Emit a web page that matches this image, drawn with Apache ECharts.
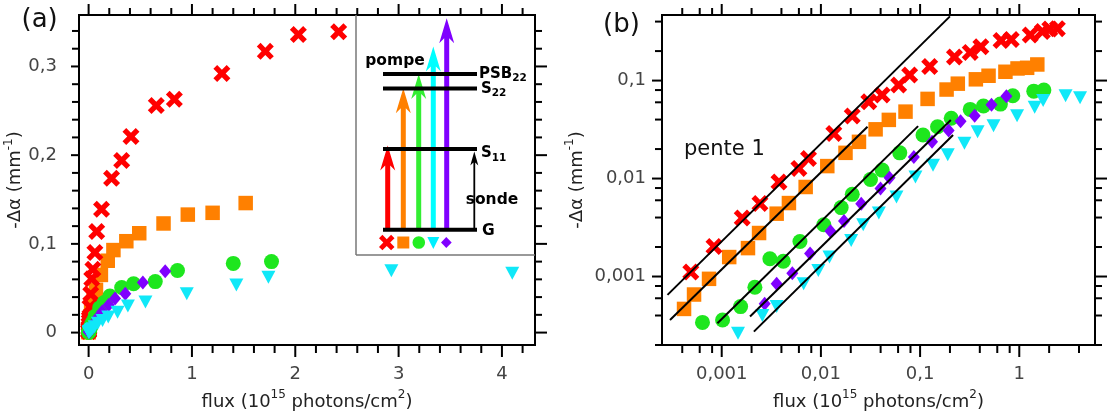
<!DOCTYPE html>
<html>
<head>
<meta charset="utf-8">
<script src="https://cdn.jsdelivr.net/npm/echarts@6/dist/echarts.min.js"></script>
<style>
html,body{margin:0;padding:0;background:#fff;}
#c{width:1112px;height:416px;}
</style>
</head>
<body>
<div id="c"></div>
<script>
// ---------------- data (flux in 1e15 photons/cm2, -Δα in mm-1) ----------------
const redPts = [
  [0.000488, 0.00111], [0.000836, 0.00203], [0.00161, 0.00395], [0.00243, 0.00555],
  [0.00378, 0.00923], [0.0060, 0.0127], [0.0075, 0.0160], [0.0135, 0.0289],
  [0.0207, 0.0435], [0.0304, 0.0608], [0.0414, 0.0713], [0.0608, 0.0903],
  [0.0785, 0.114], [0.125, 0.139], [0.222, 0.174], [0.32, 0.194],
  [0.41, 0.221], [0.655, 0.256], [0.83, 0.263], [1.29, 0.292],
  [1.71, 0.317], [2.03, 0.336], [2.42, 0.339]
];
const orangePts = [
  [0.000417, 0.000467], [0.000526, 0.000655], [0.000745, 0.000947], [0.00119, 0.00158],
  [0.00184, 0.00195], [0.00238, 0.00278], [0.00358, 0.00438], [0.00476, 0.00562],
  [0.00702, 0.0082], [0.0116, 0.0134], [0.0177, 0.0183], [0.0242, 0.0237],
  [0.0356, 0.0318], [0.0484, 0.0397], [0.0713, 0.0482], [0.119, 0.065],
  [0.185, 0.081], [0.24, 0.093], [0.365, 0.103], [0.49, 0.112],
  [0.725, 0.123], [0.96, 0.133], [1.2, 0.135], [1.52, 0.146]
];
const greenPts = [
  [0.00064, 0.00034], [0.00102, 0.00036], [0.00155, 0.000493], [0.00216, 0.000776],
  [0.00306, 0.00152], [0.00418, 0.00143], [0.00615, 0.00228], [0.0107, 0.00338],
  [0.016, 0.00505], [0.0207, 0.0069], [0.0316, 0.00977], [0.0415, 0.0122],
  [0.0624, 0.0183], [0.107, 0.0278], [0.15, 0.0338], [0.206, 0.0412],
  [0.32, 0.0508], [0.435, 0.0550], [0.645, 0.0575], [0.86, 0.070],
  [1.4, 0.078], [1.77, 0.080]
];
const purplePts = [
  [0.00271, 0.000526], [0.00358, 0.000842], [0.00515, 0.00108], [0.00778, 0.00172],
  [0.0125, 0.00289], [0.0171, 0.00368], [0.0255, 0.00554], [0.0399, 0.0079],
  [0.0492, 0.0102], [0.0865, 0.0166], [0.132, 0.0237], [0.194, 0.031],
  [0.256, 0.0385], [0.355, 0.0437], [0.525, 0.0565], [0.741, 0.069]
];
const cyanPts = [
  [0.00146, 0.000263], [0.00257, 0.000399], [0.00358, 0.000493], [0.0067, 0.000842],
  [0.00942, 0.00115], [0.0122, 0.00158], [0.0202, 0.00233], [0.0267, 0.00338],
  [0.0384, 0.00444], [0.0578, 0.00648], [0.0898, 0.0104], [0.135, 0.0137],
  [0.19, 0.0175], [0.28, 0.0229], [0.38, 0.0300], [0.55, 0.0345],
  [0.95, 0.0438], [1.43, 0.0535], [1.74, 0.0625], [2.93, 0.0698], [4.1, 0.0668]
];
// slope-1 guide lines in panel (b), end points
const fitRed = [[0.000284, 0.00065], [0.2, 0.452]];
const fitOrange = [[0.000301, 0.00036], [0.0295, 0.0338]];
const fitGreen = [[0.000905, 0.000333], [0.0955, 0.0343]];
const fitPurple = [[0.00193, 0.00039], [0.204, 0.0396]];
const fitCyan = [[0.00211, 0.000274], [0.215, 0.0278]];

// axis ranges and ticks
const aX = [-0.093, 4.32], aY = [-0.014, 0.358];
const bX = [0.00025, 5.8], bY = [0.0002, 0.467];
const aXMajor = [0, 1, 2, 3, 4];
const aXMinor = [0.2, 0.4, 0.6, 0.8, 1.2, 1.4, 1.6, 1.8, 2.2, 2.4, 2.6, 2.8, 3.2, 3.4, 3.6, 3.8, 4.2];
const aYMajor = [0, 0.1, 0.2, 0.3];
const aYMinor = [0.02, 0.04, 0.06, 0.08, 0.12, 0.14, 0.16, 0.18, 0.22, 0.24, 0.26, 0.28, 0.32, 0.34];
const bXMajor = [0.001, 0.01, 0.1, 1];
const bXMinor = [0.0004, 0.0006, 0.0008, 0.002, 0.004, 0.006, 0.008, 0.02, 0.04, 0.06, 0.08,
                 0.2, 0.4, 0.6, 0.8, 2, 4];
const bYMajor = [0.001, 0.01, 0.1];
const bYMinor = [0.0002, 0.0004, 0.0006, 0.0008, 0.002, 0.004, 0.006, 0.008, 0.02, 0.04, 0.06, 0.08, 0.2, 0.4];

// ---------------- styling ----------------
const FONT = 'DejaVu Sans';
const CROSS = 'path://M0,2.2L2.2,0L5,2.8L7.8,0L10,2.2L7.2,5L10,7.8L7.8,10L5,7.2L2.2,10L0,7.8L2.8,5Z';
const COL = { red: '#ff0000', orange: '#ff8000', green: '#1ee61e', purple: '#8000ff', cyan: '#10e8f8' };

const defs = [
  { data: orangePts, symbol: 'rect', size: 14.5, color: COL.orange },
  { data: redPts, symbol: CROSS, size: 17, color: COL.red },
  { data: greenPts, symbol: 'circle', size: 15, color: COL.green },
  { data: purplePts, symbol: 'diamond', size: [12, 14], color: COL.purple },
  { data: cyanPts, symbol: 'triangle', size: [14, 13], color: COL.cyan, rotate: 180 }
];

function tickData(xMaj, xMin, yMaj, yMin, xr, yr) {
  const d = [];
  xMaj.forEach(v => d.push([v, yr[0], 0, 1]));
  xMin.forEach(v => d.push([v, yr[0], 0, 0]));
  yMaj.forEach(v => d.push([xr[0], v, 1, 1]));
  yMin.forEach(v => d.push([xr[0], v, 1, 0]));
  return d;
}
function tickSeries(gi, data, xr, yr, len) {
  return {
    type: 'custom', xAxisIndex: gi, yAxisIndex: gi, clip: false, silent: true, z: 1,
    data: data,
    renderItem: function (params, api) {
      const side = api.value(2), major = api.value(3);
      const st = { stroke: '#000', lineWidth: 2 };
      if (side === 0) {
        const v = api.value(0);
        const b = api.coord([v, yr[0]]), t = api.coord([v, yr[1]]);
        const lb = major ? len.bMaj : len.bMin, lt = major ? len.tMaj : len.tMin;
        return { type: 'group', children: [
          { type: 'line', shape: { x1: b[0], y1: b[1], x2: b[0], y2: b[1] + lb }, style: st },
          { type: 'line', shape: { x1: t[0], y1: t[1], x2: t[0], y2: t[1] - lt }, style: st }
        ] };
      } else {
        const v = api.value(1);
        const l = api.coord([xr[0], v]), r = api.coord([xr[1], v]);
        const ll = major ? len.lMaj : len.lMin, lr = major ? len.rMaj : len.rMin;
        return { type: 'group', children: [
          { type: 'line', shape: { x1: l[0], y1: l[1], x2: l[0] - ll, y2: l[1] }, style: st },
          { type: 'line', shape: { x1: r[0], y1: r[1], x2: r[0] + lr, y2: r[1] }, style: st }
        ] };
      }
    }
  };
}

const nameRich = {
  n: { fontSize: 18, fontFamily: FONT, color: '#222', lineHeight: 26 },
  s: { fontSize: 12, fontFamily: FONT, color: '#222', lineHeight: 14, verticalAlign: 'top' }
};
const xName = '{n|flux (10}{s|15}{n| photons/cm}{s|2}{n|)}';
const yName = '{n|-\u0394\u03b1 (mm}{s|-1}{n|)}';
const labelStyle = { fontSize: 18, fontFamily: FONT, color: '#444' };

function fmtA(step) {
  return function (v) {
    const k = Math.round(v / step);
    if (Math.abs(v / step - k) > 1e-6) return '';
    return String(+(k * step).toFixed(4)).replace('.', ',');
  };
}
function fmtLog(v) {
  const l = Math.log10(v), r = Math.round(l);
  if (Math.abs(l - r) > 1e-6) return '';
  return String(+Math.pow(10, r).toFixed(6)).replace('.', ',');
}

const series = [];
[0, 1].forEach(gi => {
  defs.forEach((d, i) => series.push({
    type: 'scatter', xAxisIndex: gi, yAxisIndex: gi, data: d.data,
    symbol: d.symbol, symbolSize: d.size, symbolRotate: d.rotate || 0,
    itemStyle: { color: d.color, opacity: 1 }, z: 3 + i, silent: true
  }));
});
[fitRed, fitOrange, fitGreen, fitPurple, fitCyan].forEach(f => series.push({
  type: 'line', xAxisIndex: 1, yAxisIndex: 1, data: f, symbol: 'none', silent: true, z: 10,
  lineStyle: { color: '#000', width: 2 }
}));
series.push(tickSeries(0, tickData(aXMajor, aXMinor, aYMajor, aYMinor, aX, aY), aX, aY,
  { bMaj: 12, bMin: 8, tMaj: 11, tMin: 7, lMaj: 8, lMin: 7, rMaj: 12, rMin: 7 }));
series.push(tickSeries(1, tickData(bXMajor, bXMinor, bYMajor, bYMinor, bX, bY), bX, bY,
  { bMaj: 12, bMin: 8, tMaj: 11, tMin: 7, lMaj: 10, lMin: 7, rMaj: 12, rMin: 7 }));

// ---------------- inset (energy-level sketch) ----------------
function arrow(cx, y0, tip, w, hw, hl, notch, color) {
  return { type: 'polygon', silent: true, z: 20,
    shape: { points: [[cx - w, y0], [cx - w, tip + hl - notch], [cx - hw, tip + hl], [cx, tip],
                      [cx + hw, tip + hl], [cx + w, tip + hl - notch], [cx + w, y0]] },
    style: { fill: color } };
}
function level(y) {
  return { type: 'rect', silent: true, z: 21, shape: { x: 383, y: y - 2, width: 94, height: 4 }, style: { fill: '#000' } };
}
function btext(x, y, text, align, extra) {
  return { type: 'text', silent: true, z: 22, x: x, y: y,
    style: Object.assign({ text: text, fontFamily: FONT, fontWeight: 'bold', fontSize: 15, fill: '#000',
      align: align || 'left', verticalAlign: 'middle',
      rich: { m: { fontSize: 15, fontWeight: 'bold', fontFamily: FONT, lineHeight: 20, fill: '#000' },
              s: { fontSize: 10.5, fontWeight: 'bold', fontFamily: FONT, lineHeight: 10, verticalAlign: 'bottom', fill: '#000' } } },
      extra || {}) };
}
const gY = 229.7;
const crossPts = [[0,2.2],[2.2,0],[5,2.8],[7.8,0],[10,2.2],[7.2,5],[10,7.8],[7.8,10],[5,7.2],[2.2,10],[0,7.8],[2.8,5]]
  .map(p => [379 + p[0] * 1.55, 234.8 + p[1] * 1.55]);
const graphics = [
  { type: 'rect', silent: true, z: 15, shape: { x: 356, y: 16, width: 178, height: 239 }, style: { fill: '#fff' } },
  { type: 'line', silent: true, z: 16, shape: { x1: 356, y1: 15, x2: 356, y2: 255 }, style: { stroke: '#777', lineWidth: 1.5 } },
  { type: 'line', silent: true, z: 16, shape: { x1: 356, y1: 255, x2: 535, y2: 255 }, style: { stroke: '#777', lineWidth: 1.5 } },
  arrow(387.7, gY, 145.5, 2.5, 7.5, 25, 5, COL.red),
  arrow(403.3, gY, 88.3, 2.5, 7.5, 25, 5, COL.orange),
  arrow(418.7, gY, 74, 2.5, 7.5, 25, 5, '#33ee33'),
  arrow(433.3, gY, 46.5, 2.5, 7.5, 25, 5, '#00ffff'),
  arrow(446.7, gY, 18.3, 2.5, 7.5, 25, 5, COL.purple),
  arrow(474.3, gY, 151.5, 0.9, 4, 14, 3, '#000'),
  level(74), level(88.5), level(149), level(gY),
  btext(395, 61, 'pompe', 'center', { fontSize: 15.5 }),
  btext(479, 74, '{m|PSB}{s|22}'),
  btext(481, 89, '{m|S}{s|22}'),
  btext(481, 153.5, '{m|S}{s|11}'),
  btext(492, 199.5, 'sonde', 'center', { fontSize: 15.5 }),
  btext(482, 230.5, 'G', 'left', { fontSize: 15.5 }),
  { type: 'polygon', silent: true, z: 22, shape: { points: crossPts }, style: { fill: COL.red } },
  { type: 'rect', silent: true, z: 22, shape: { x: 397.3, y: 236.5, width: 12, height: 12 }, style: { fill: COL.orange } },
  { type: 'circle', silent: true, z: 22, shape: { cx: 418.8, cy: 242.5, r: 6.3 }, style: { fill: '#22ee22' } },
  { type: 'polygon', silent: true, z: 22, shape: { points: [[427.3, 237], [439.3, 237], [433.3, 249]] }, style: { fill: '#00f0ff' } },
  { type: 'polygon', silent: true, z: 22, shape: { points: [[446.3, 237], [451.7, 242.5], [446.3, 248], [441, 242.5]] }, style: { fill: COL.purple } },
  { type: 'text', silent: true, z: 22, x: 21.5, y: 20, style: { text: '(a)', fontFamily: FONT, fontSize: 26, fill: '#111', verticalAlign: 'middle' } },
  { type: 'text', silent: true, z: 22, x: 603, y: 25, style: { text: '(b)', fontFamily: FONT, fontSize: 26, fill: '#111', verticalAlign: 'middle' } },
  { type: 'text', silent: true, z: 22, x: 684, y: 150, style: { text: 'pente 1', fontFamily: FONT, fontSize: 21, fill: '#111', verticalAlign: 'middle' } }
];

const chart = echarts.init(document.getElementById('c'), null, { renderer: 'canvas' });
chart.setOption({
  animation: false,
  backgroundColor: '#fff',
  grid: [
    { left: 79, top: 15, width: 456, height: 331, show: true, borderColor: '#000', borderWidth: 2, backgroundColor: 'transparent' },
    { left: 662, top: 15, width: 433, height: 331, show: true, borderColor: '#000', borderWidth: 2, backgroundColor: 'transparent' }
  ],
  xAxis: [
    { gridIndex: 0, type: 'value', min: aX[0], max: aX[1],
      axisLine: { show: false }, axisTick: { show: false }, splitLine: { show: false },
      axisLabel: Object.assign({ margin: 20, formatter: fmtA(1) }, labelStyle),
      name: xName, nameLocation: 'middle', nameGap: 44, nameTextStyle: { rich: nameRich } },
    { gridIndex: 1, type: 'log', logBase: 10, min: bX[0], max: bX[1],
      axisLine: { show: false }, axisTick: { show: false }, splitLine: { show: false },
      axisLabel: Object.assign({ margin: 20, formatter: fmtLog }, labelStyle),
      name: xName, nameLocation: 'middle', nameGap: 44, nameTextStyle: { rich: nameRich } }
  ],
  yAxis: [
    { gridIndex: 0, type: 'value', min: aY[0], max: aY[1],
      axisLine: { show: false }, axisTick: { show: false }, splitLine: { show: false },
      axisLabel: Object.assign({ margin: 22, formatter: fmtA(0.1) }, labelStyle),
      name: yName, nameLocation: 'middle', nameRotate: 90, nameGap: 41, nameTextStyle: { rich: nameRich } },
    { gridIndex: 1, type: 'log', logBase: 10, min: bY[0], max: bY[1],
      axisLine: { show: false }, axisTick: { show: false }, splitLine: { show: false },
      axisLabel: Object.assign({ margin: 16, formatter: fmtLog }, labelStyle),
      name: yName, nameLocation: 'middle', nameRotate: 90, nameGap: 72, nameTextStyle: { rich: nameRich } }
  ],
  series: series,
  graphic: graphics
});
</script>
</body>
</html>
